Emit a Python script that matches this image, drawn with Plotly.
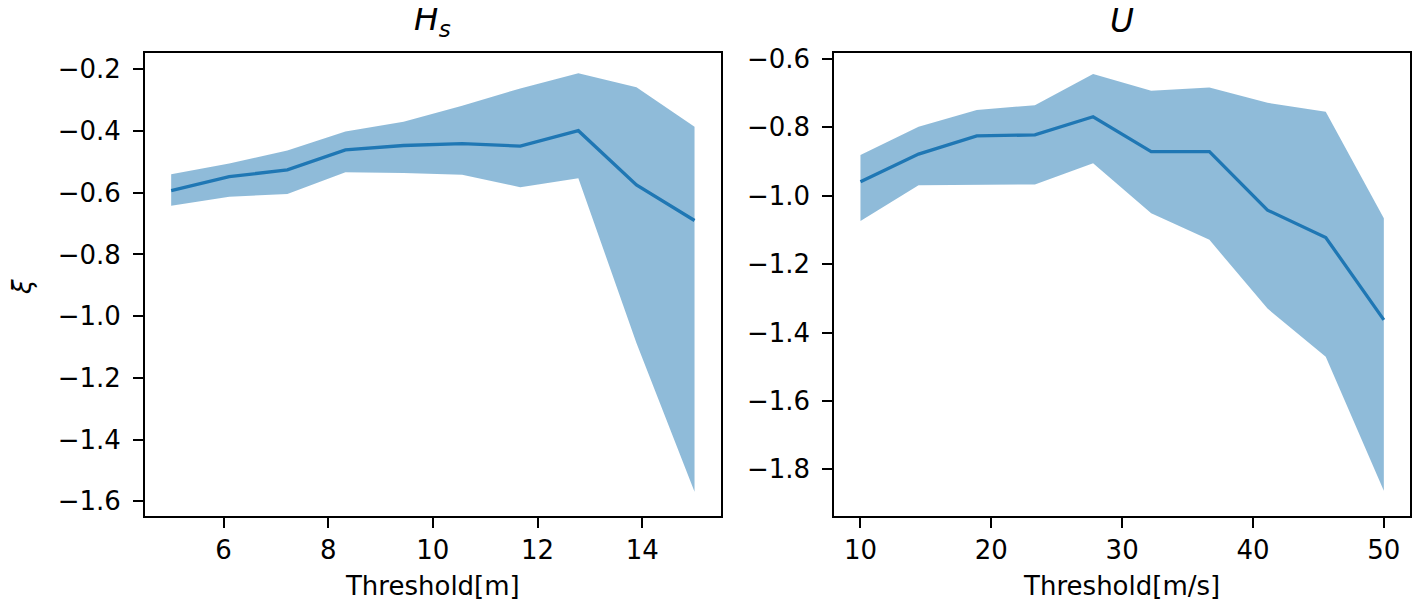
import plotly.graph_objects as go

# ---- data ----
hs_threshold = [5.0, 6.11, 7.22, 8.33, 9.44, 10.56, 11.67, 12.78, 13.89, 15.0]
hs_mean = [-0.593, -0.548, -0.526, -0.461, -0.447, -0.441, -0.449, -0.399, -0.575, -0.690]
hs_upper = [-0.540, -0.505, -0.463, -0.402, -0.370, -0.318, -0.262, -0.213, -0.258, -0.386]
hs_lower = [-0.642, -0.613, -0.604, -0.534, -0.536, -0.542, -0.582, -0.553, -1.087, -1.569]

u_threshold = [10.0, 14.44, 18.89, 23.33, 27.78, 32.22, 36.67, 41.11, 45.56, 50.0]
u_mean = [-0.959, -0.878, -0.825, -0.822, -0.769, -0.871, -0.871, -1.042, -1.122, -1.363]
u_upper = [-0.881, -0.798, -0.749, -0.735, -0.644, -0.693, -0.683, -0.728, -0.754, -1.066]
u_lower = [-1.074, -0.969, -0.967, -0.967, -0.905, -1.051, -1.129, -1.330, -1.471, -1.863]

hs_yticks = [-1.6, -1.4, -1.2, -1.0, -0.8, -0.6, -0.4, -0.2]
hs_xticks = [6, 8, 10, 12, 14]
u_yticks = [-1.8, -1.6, -1.4, -1.2, -1.0, -0.8, -0.6]
u_xticks = [10, 20, 30, 40, 50]

# page body has an 8px margin; figure is sized to fit the window
OFF = 8
W, H = 1421 - OFF, 605 - OFF
LINE = "#1f77b4"
FILL = "rgba(31,119,180,0.5)"
FONT = "DejaVu Sans"
FS = 26

fig = go.Figure()

def add_panel(x, lo, hi, mean, xa, ya):
    fig.add_trace(go.Scatter(x=x + x[::-1], y=hi + lo[::-1], fill="toself",
                             fillcolor=FILL, line=dict(width=0), mode="lines",
                             hoverinfo="skip", showlegend=False, xaxis=xa, yaxis=ya))
    fig.add_trace(go.Scatter(x=x, y=mean, mode="lines", line=dict(color=LINE, width=3.3),
                             showlegend=False, xaxis=xa, yaxis=ya))

add_panel(hs_threshold, hs_lower, hs_upper, hs_mean, "x", "y")
add_panel(u_threshold, u_lower, u_upper, u_mean, "x2", "y2")

def px_x(p):
    return (p - OFF) / W

def px_y(p):
    return 1 - (p - OFF) / H

axis_common = dict(showgrid=False, zeroline=False, showline=True, linecolor="black",
                   linewidth=2, mirror=True, ticks="outside", ticklen=10, tickwidth=2,
                   tickcolor="black", automargin=False,
                   tickfont=dict(family=FONT, size=FS, color="black"))

ydom = [px_y(515.7), px_y(52.5)]

fig.update_layout(
    width=W, height=H,
    margin=dict(l=0, r=0, t=0, b=0),
    paper_bgcolor="white", plot_bgcolor="white",
    font=dict(family=FONT, size=FS, color="black"),
    xaxis=dict(domain=[px_x(145), px_x(720.7)], range=[4.5, 15.5], tickvals=hs_xticks,
               anchor="y", title=dict(text="Threshold[m]", font=dict(family=FONT, size=FS), standoff=13),
               **axis_common),
    yaxis=dict(domain=ydom, range=[-1.6467, -0.1456], tickvals=hs_yticks, tickformat=".1f",
               anchor="x", ticklabelstandoff=7, **axis_common),
    xaxis2=dict(domain=[px_x(834.3), px_x(1410)], range=[8.0, 52.0], tickvals=u_xticks,
                anchor="y2", title=dict(text="Threshold[m/s]", font=dict(family=FONT, size=FS), standoff=13),
                **axis_common),
    yaxis2=dict(domain=ydom, range=[-1.9357, -0.581], tickvals=u_yticks, tickformat=".1f",
                anchor="x2", ticklabelstandoff=7, **axis_common),
    annotations=[
        dict(text="<i>H</i><sub><i>s</i></sub>", x=px_x(432.9), y=px_y(44), xref="paper", yref="paper",
             xanchor="center", yanchor="bottom", showarrow=False, font=dict(family=FONT, size=33)),
        dict(text="<i>U</i>", x=px_x(1122), y=px_y(42), xref="paper", yref="paper",
             xanchor="center", yanchor="bottom", showarrow=False, font=dict(family=FONT, size=33)),
        dict(text="<i>ξ</i>", x=px_x(22), y=px_y(287), xref="paper", yref="paper",
             xanchor="center", yanchor="middle", showarrow=False, textangle=-90,
             font=dict(family=FONT, size=FS)),
    ],
)

fig.write_html("out.html")
